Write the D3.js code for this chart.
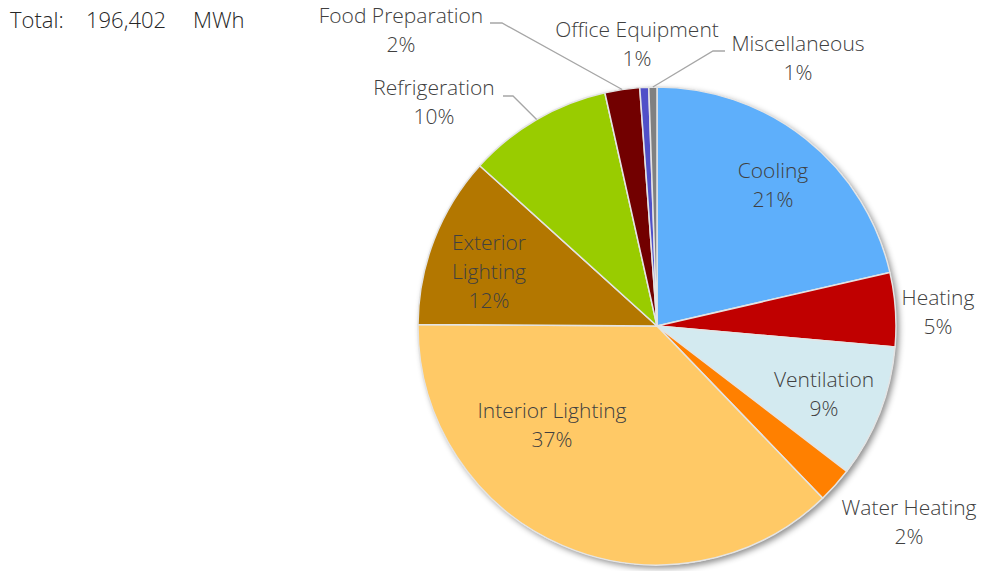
<!DOCTYPE html>
<html>
<head>
<meta charset="utf-8">
<script src="https://cdn.jsdelivr.net/npm/d3@7"></script>
<style>
  html, body { margin: 0; padding: 0; background: #fff; }
  svg { display: block; }
  text { font-family: "Open Sans", "Segoe UI", Lato, sans-serif; font-weight: 300; fill: #404040; }
</style>
</head>
<body>
<div id="chart"></div>
<script>
// ---- data ----
const categories = ["Cooling", "Heating", "Ventilation", "Water Heating", "Interior Lighting",
                    "Exterior Lighting", "Refrigeration", "Food Preparation", "Office Equipment", "Miscellaneous"];
const shares = [21.4, 5.0, 9.0, 2.4, 37.3, 11.6, 9.8, 2.35, 0.6, 0.55];
const colors = ["#5eaffb", "#c00000", "#d3eaf0", "#ff8000", "#ffc966",
                "#b37700", "#99cc00", "#720000", "#5050c8", "#808080"];
const totalLabel = ["Total:", "196,402", "MWh"];

const W = 982, H = 571;
const cx = 657, cy = 326, R = 239;

const svg = d3.select("#chart").append("svg").attr("width", W).attr("height", H);

const defs = svg.append("defs");
const f = defs.append("filter").attr("id", "shadow")
  .attr("x", "-10%").attr("y", "-10%").attr("width", "120%").attr("height", "120%");
f.append("feDropShadow").attr("dx", 3).attr("dy", 3).attr("stdDeviation", 3)
  .attr("flood-color", "#000").attr("flood-opacity", 0.45);

const pie = d3.pie().sort(null).value(d => d.v)
  .startAngle(0).endAngle(2 * Math.PI);
const data = categories.map((c, i) => ({ c, v: shares[i], col: colors[i] }));
const arcs = pie(data);
const arc = d3.arc().innerRadius(0).outerRadius(R);
const total = d3.sum(shares);

const g = svg.append("g").attr("transform", `translate(${cx},${cy})`);
g.append("circle").attr("r", R).attr("fill", "#ddd").attr("filter", "url(#shadow)");
g.selectAll("path.slice").data(arcs).join("path")
  .attr("class", "slice")
  .attr("d", arc)
  .attr("fill", d => d.data.col)
  .attr("stroke", "#e4e4e4")
  .attr("stroke-width", 1.5)
  .attr("stroke-linejoin", "round");

// label layout (centre of text block, in px) per category
const labelPos = {
  "Cooling": [773, 171, false],
  "Heating": [938, 298, false],
  "Ventilation": [824, 380, false],
  "Water Heating": [909, 508, false],
  "Interior Lighting": [552, 411, false],
  "Exterior Lighting": [489, 243, true],
  "Refrigeration": [434, 88, false],
  "Food Preparation": [401, 16, false],
  "Office Equipment": [637, 30, false],
  "Miscellaneous": [798, 44, false]
};
const leaders = {
  "Food Preparation": [[490, 23], [502, 23]],
  "Refrigeration": [[503, 96], [513, 96]],
  "Miscellaneous": [[725, 51], [713, 51]]
};
const lineH = 29;

arcs.forEach(a => {
  const L = leaders[a.data.c];
  if (!L) return;
  const mid = (a.startAngle + a.endAngle) / 2;
  const ex = cx + Math.sin(mid) * R, ey = cy - Math.cos(mid) * R;
  svg.append("path")
    .attr("d", d3.line()([...L, [ex, ey]]))
    .attr("fill", "none").attr("stroke", "#a6a6a6").attr("stroke-width", 1.3);
});

const fs = 21;
arcs.forEach(a => {
  const p = labelPos[a.data.c];
  const pct = Math.round(a.data.v / total * 100) + "%";
  const lines = p[2] ? a.data.c.split(" ").concat([pct]) : [a.data.c, pct];
  const t = svg.append("text").attr("text-anchor", "middle").attr("font-size", fs);
  lines.forEach((ln, i) => {
    t.append("tspan").attr("x", p[0]).attr("y", p[1] + i * lineH).attr("dy", "0.35em").text(ln);
  });
});

// total
const tt = svg.append("text").attr("font-size", 22).attr("y", 20).attr("dy", "0.35em")
  .style("font-weight", 300).style("fill", "#262626");
tt.append("tspan").attr("x", 10).text(totalLabel[0]);
tt.append("tspan").attr("x", 86).text(totalLabel[1]);
tt.append("tspan").attr("x", 193).text(totalLabel[2]);
</script>
</body>
</html>
